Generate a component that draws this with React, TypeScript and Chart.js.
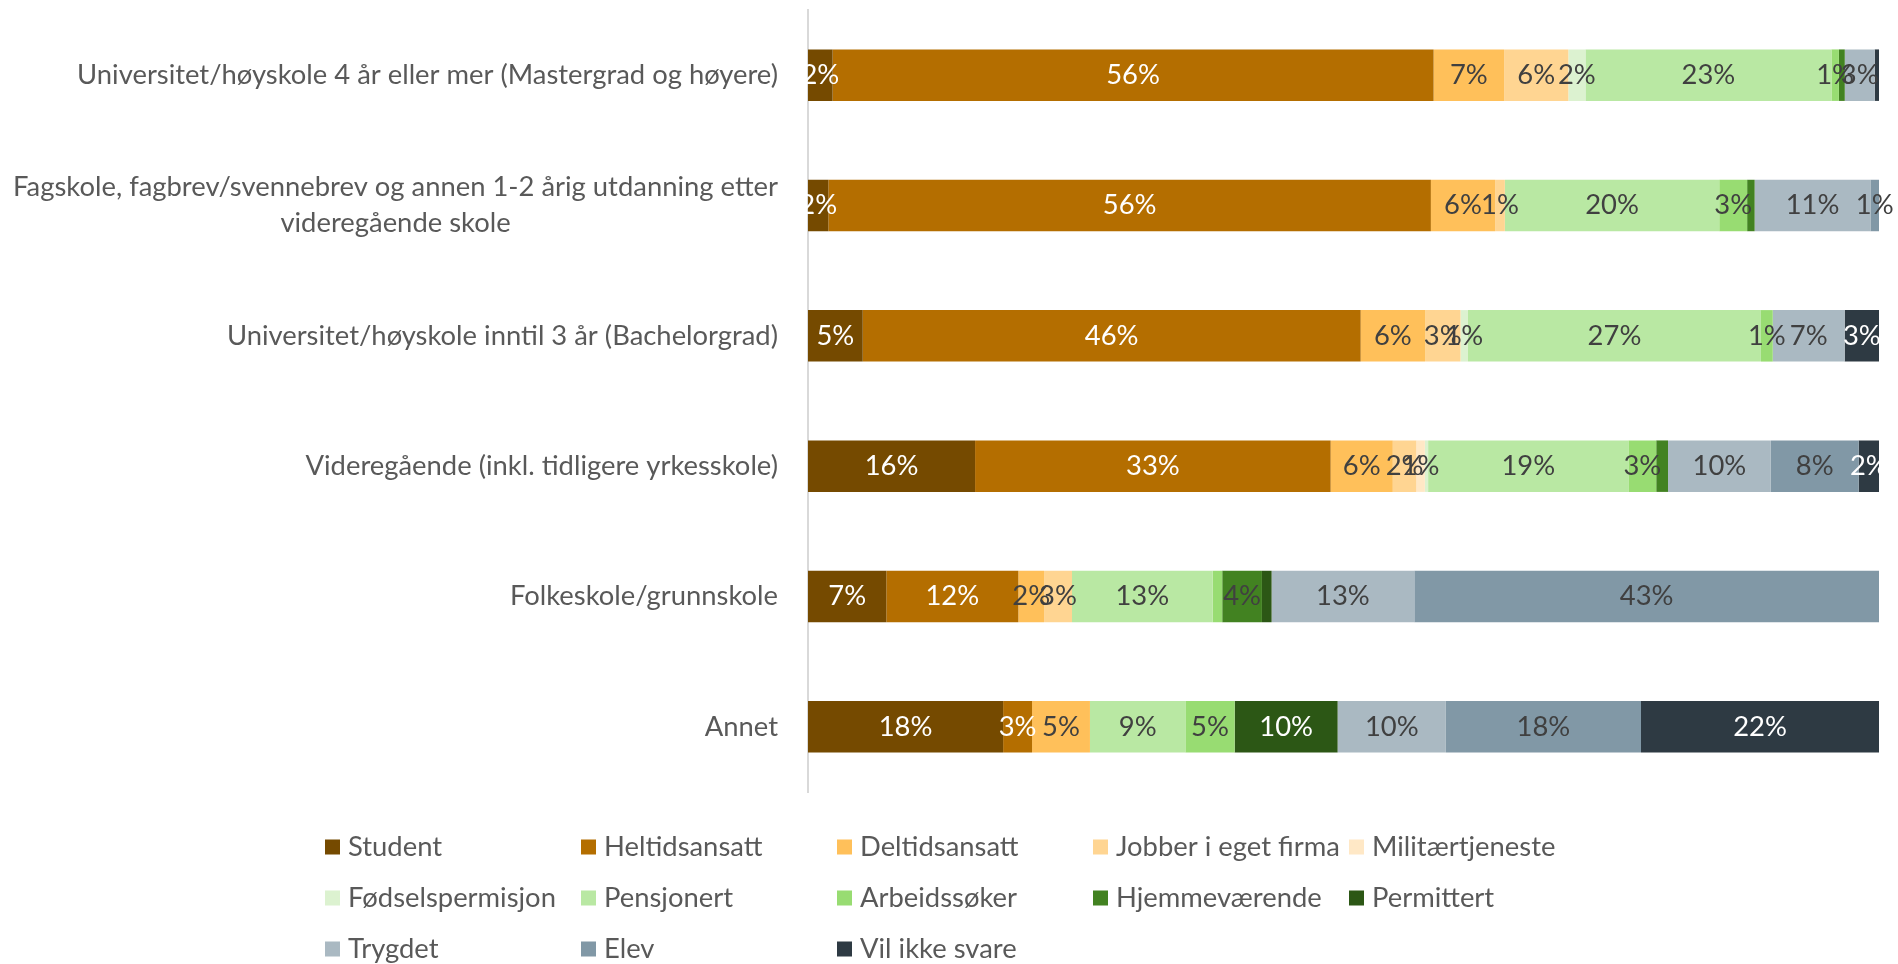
import React, { useEffect, useRef } from "react";
import { Chart, registerables } from "chart.js";

Chart.register(...registerables);

// ---------- data ----------
const categories: (string | string[])[] = [
  "Universitet/høyskole 4 år eller mer (Mastergrad og høyere)",
  ["Fagskole, fagbrev/svennebrev og annen 1-2 årig utdanning etter", "videregående skole"],
  "Universitet/høyskole inntil 3 år (Bachelorgrad)",
  "Videregående (inkl. tidligere yrkesskole)",
  "Folkeskole/grunnskole",
  "Annet",
];

const seriesNames = [
  "Student",
  "Heltidsansatt",
  "Deltidsansatt",
  "Jobber i eget firma",
  "Militærtjeneste",
  "Fødselspermisjon",
  "Pensjonert",
  "Arbeidssøker",
  "Hjemmeværende",
  "Permittert",
  "Trygdet",
  "Elev",
  "Vil ikke svare",
];

const seriesColors = [
  "#754a00",
  "#b46e00",
  "#ffc05a",
  "#ffd592",
  "#ffe8c6",
  "#dcf2d0",
  "#b9e8a3",
  "#98dc72",
  "#428221",
  "#2c5715",
  "#aab9c2",
  "#8198a6",
  "#2e3a43",
];

const student = [2.3, 1.9, 5.1, 15.6, 7.3, 18.2];
const heltidsansatt = [56.2, 56.2, 46.4, 33.2, 12.3, 2.7];
const deltidsansatt = [6.6, 6.0, 6.0, 5.8, 2.4, 5.4];
const jobberIEgetFirma = [6.0, 0.9, 3.3, 2.2, 2.6, 0];
const militaertjeneste = [0, 0, 0, 0.8, 0, 0];
const fodselspermisjon = [1.6, 0, 0.7, 0.3, 0, 0];
const pensjonert = [23.0, 20.0, 27.3, 18.7, 13.1, 8.9];
const arbeidssoker = [0.7, 2.6, 1.1, 2.6, 0.9, 4.6];
const hjemmevaerende = [0.55, 0.7, 0, 1.1, 3.7, 0];
const permittert = [0, 0, 0, 0, 0.9, 9.6];
const trygdet = [2.8, 10.8, 6.7, 9.6, 13.3, 10.1];
const elev = [0, 0.8, 0, 8.2, 43.3, 18.2];
const vilIkkeSvare = [0.4, 0, 3.2, 1.9, 0, 22.2];

const seriesValues = [
  student,
  heltidsansatt,
  deltidsansatt,
  jobberIEgetFirma,
  militaertjeneste,
  fodselspermisjon,
  pensjonert,
  arbeidssoker,
  hjemmevaerende,
  permittert,
  trygdet,
  elev,
  vilIkkeSvare,
];

const whiteLabelSeries = ["Student", "Heltidsansatt", "Permittert", "Vil ikke svare"];
// labels that are not shown in the original
const hiddenLabels: [string, number][] = [
  ["Hjemmeværende", 0],
  ["Hjemmeværende", 1],
  ["Hjemmeværende", 3],
  ["Arbeidssøker", 4],
  ["Permittert", 4],
];

// ---------- style ----------
const FONT = "Lato, 'Open Sans', sans-serif";
const FS = 27.4;
const TEXT = "#595959";
const DARK_LABEL = "#404040";

const rowTotals = categories.map((_, i) =>
  seriesValues.reduce((s, arr) => s + (arr[i] || 0), 0)
);

const categoryLabelPlugin = {
  id: "categoryLabels",
  afterDraw(chart: any) {
    const ctx = chart.ctx;
    const y = chart.scales.y;
    ctx.save();
    ctx.font = `${FS}px ${FONT}`;
    ctx.fillStyle = TEXT;
    ctx.textAlign = "center";
    ctx.textBaseline = "middle";
    const right = chart.chartArea.left - 30;
    const lh = 36;
    categories.forEach((c, i) => {
      const lines = Array.isArray(c) ? c : [c];
      const w = Math.max(...lines.map((l) => ctx.measureText(l).width));
      const cx = right - w / 2;
      const cy = y.getPixelForValue(i);
      lines.forEach((l, j) => {
        ctx.fillText(l, cx, cy + (j - (lines.length - 1) / 2) * lh);
      });
    });
    ctx.restore();
  },
};

const dataLabelPlugin = {
  id: "dataLabels",
  afterDatasetsDraw(chart: any) {
    const ctx = chart.ctx;
    ctx.save();
    ctx.font = `${FS}px ${FONT}`;
    ctx.textAlign = "center";
    ctx.textBaseline = "middle";
    chart.data.datasets.forEach((ds: any, di: number) => {
      const meta = chart.getDatasetMeta(di);
      meta.data.forEach((el: any, i: number) => {
        const v = ds.data[i];
        const r = Math.round(v);
        if (r < 1) return;
        if (hiddenLabels.some(([n, k]) => n === ds.label && k === i)) return;
        const p = el.getCenterPoint();
        ctx.fillStyle = whiteLabelSeries.includes(ds.label) ? "#ffffff" : DARK_LABEL;
        ctx.fillText(`${r}%`, p.x, p.y);
      });
    });
    ctx.restore();
  },
};

const legendPlugin = {
  id: "gridLegend",
  afterDraw(chart: any) {
    const ctx = chart.ctx;
    ctx.save();
    ctx.font = `${FS}px ${FONT}`;
    ctx.textBaseline = "middle";
    ctx.textAlign = "left";
    const x0 = 325;
    const colW = 256;
    const y0 = 847;
    const rowH = 51;
    const box = 15;
    chart.data.datasets.forEach((ds: any, i: number) => {
      const col = i % 5;
      const row = Math.floor(i / 5);
      const x = x0 + col * colW;
      const y = y0 + row * rowH;
      ctx.fillStyle = ds.backgroundColor;
      ctx.fillRect(x, y - box / 2, box, box);
      ctx.fillStyle = TEXT;
      ctx.fillText(ds.label, x + box + 8, y);
    });
    ctx.restore();
  },
};

export default function App() {
  const ref = useRef<HTMLCanvasElement | null>(null);

  useEffect(() => {
    if (!ref.current) return;
    const chart = new Chart(ref.current, {
      type: "bar",
      data: {
        labels: categories.map((c) => (Array.isArray(c) ? c.join(" ") : c)),
        datasets: seriesNames.map((name, si) => ({
          label: name,
          data: seriesValues[si].map((v, i) => (v / rowTotals[i]) * 100),
          backgroundColor: seriesColors[si],
          borderWidth: 0,
          barPercentage: 0.395,
          categoryPercentage: 1,
        })),
      },
      options: {
        indexAxis: "y",
        responsive: false,
        animation: false,
        layout: { padding: { left: 0, right: 19, top: 10, bottom: 208 } },
        plugins: {
          legend: { display: false },
          tooltip: { enabled: false },
        },
        scales: {
          x: {
            stacked: true,
            min: 0,
            max: 100,
            display: false,
          },
          y: {
            stacked: true,
            grid: { display: false },
            border: { display: true, color: "#d9d9d9", width: 2 },
            ticks: { display: false },
            afterFit(scale: any) {
              scale.width = 808;
            },
          },
        },
      },
      plugins: [dataLabelPlugin, categoryLabelPlugin, legendPlugin],
    });
    return () => chart.destroy();
  }, []);

  return (
    <div
      style={{
        position: "fixed",
        left: 0,
        top: 0,
        width: 1898,
        height: 964,
        overflow: "hidden",
        background: "#ffffff",
      }}
    >
      <canvas ref={ref} width={1898} height={1000} style={{ display: "block" }} />
    </div>
  );
}
